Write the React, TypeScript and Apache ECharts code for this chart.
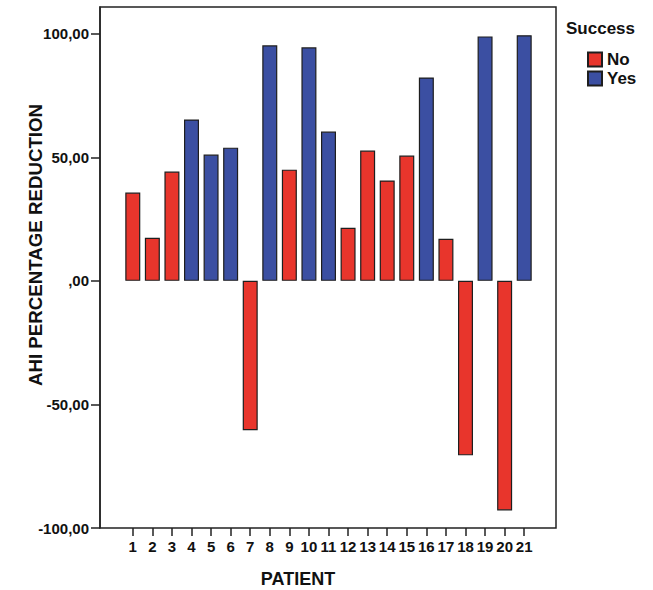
import React, { useEffect, useRef } from "react";
import * as echarts from "echarts";

const patients = ["1","2","3","4","5","6","7","8","9","10","11","12","13","14","15","16","17","18","19","20","21"];
const reduction = [35.7, 17.4, 44.2, 65.3, 51.1, 53.9, -60.4, 95.3, 45.0, 94.5, 60.4, 21.5, 52.7, 40.6, 50.7, 82.3, 17.0, -70.6, 98.9, -92.9, 99.4];
const success = ["No","No","No","Yes","Yes","Yes","No","Yes","No","Yes","Yes","No","No","No","No","Yes","No","No","Yes","No","Yes"];
const yTicks = [-100, -50, 0, 50, 100];

const FONT = '"Liberation Sans", Arial, Helvetica, sans-serif';
const RED = "#e8352c";
const BLUE = "#3b4fa2";

export default function App() {
  const ref = useRef<HTMLDivElement>(null);
  useEffect(() => {
    if (!ref.current) return;
    const chart = echarts.init(ref.current, undefined, { renderer: "svg" });
    const noData = reduction.map((v, i) => (success[i] === "No" ? v : null));
    const yesData = reduction.map((v, i) => (success[i] === "Yes" ? v : null));
    const fmt = (v: number) => (v === 0 ? ",00" : v.toFixed(2).replace(".", ","));
    chart.setOption({
      animation: false,
      backgroundColor: "#ffffff",
      grid: { left: 123, right: 119, top: 7, bottom: 62 },
      xAxis: {
        type: "category",
        data: patients,
        axisLine: { show: false, onZero: false },
        axisTick: { show: true, alignWithLabel: true, length: 8, lineStyle: { color: "#222", width: 1.5 } },
        axisLabel: { margin: 11, color: "#111", fontFamily: FONT, fontWeight: "bold", fontSize: 15, interval: 0 },
        splitLine: { show: false },
      },
      yAxis: {
        type: "value",
        min: -100,
        max: 110.8,
        offset: 23,
        axisLine: { show: true, lineStyle: { color: "#222", width: 1.5 } },
        axisTick: { show: true, length: 9, customValues: yTicks, lineStyle: { color: "#222", width: 1.5 } },
        axisLabel: {
          customValues: yTicks,
          margin: 11,
          color: "#111",
          fontFamily: FONT,
          fontWeight: "bold",
          fontSize: 15,
          formatter: (v: number) => (yTicks.indexOf(v) >= 0 ? fmt(v) : ""),
        },
        splitLine: { show: false },
      },
      legend: {
        orient: "vertical",
        left: 582,
        top: 46,
        itemWidth: 14,
        itemHeight: 14,
        itemGap: 2,
        icon: "rect",
        textStyle: { fontFamily: FONT, fontWeight: "bold", fontSize: 17, lineHeight: 17, color: "#111" },
        data: ["No", "Yes"],
      },
      graphic: [
        {
          type: "rect",
          shape: { x: 100, y: 7, width: 456, height: 521 },
          style: { fill: "none", stroke: "#222", lineWidth: 1.5 },
          silent: true,
          z: 10,
        },
        {
          type: "text",
          x: 566,
          y: 28,
          style: { text: "Success", fontFamily: FONT, fontWeight: "bold", fontSize: 17, fill: "#111", verticalAlign: "middle", align: "left" },
        },
        {
          type: "text",
          x: 298,
          y: 579,
          style: { text: "PATIENT", fontFamily: FONT, fontWeight: "bold", fontSize: 18, fill: "#111", verticalAlign: "middle", align: "center" },
        },
        {
          type: "text",
          x: 35,
          y: 245,
          rotation: Math.PI / 2,
          style: { text: "AHI PERCENTAGE REDUCTION", fontFamily: FONT, fontWeight: "bold", fontSize: 18.7, fill: "#111", verticalAlign: "middle", align: "center" },
        },
      ],
      series: [
        {
          name: "No",
          type: "bar",
          stack: "s",
          data: noData,
          barWidth: 15,
          itemStyle: { color: RED, borderColor: "#1e1e1e", borderWidth: 1.2 },
        },
        {
          name: "Yes",
          type: "bar",
          stack: "s",
          data: yesData,
          barWidth: 15,
          itemStyle: { color: BLUE, borderColor: "#1e1e1e", borderWidth: 1.2 },
        },
      ],
    });
    return () => chart.dispose();
  }, []);
  return <div ref={ref} style={{ position: "fixed", left: 0, top: 0, width: 653, height: 590 }} />;
}
